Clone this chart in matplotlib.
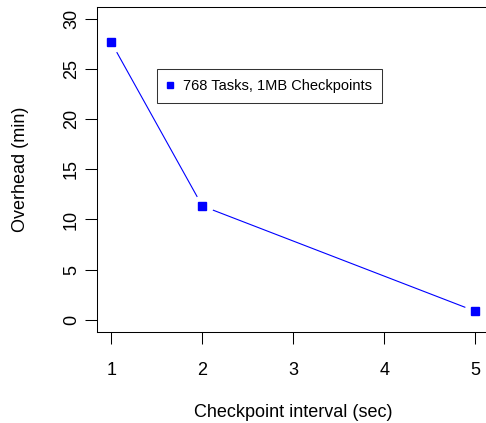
import matplotlib
matplotlib.use("Agg")
import matplotlib.pyplot as plt
from matplotlib.lines import Line2D

intervals = [1, 2, 5]
overhead = [27.7, 11.35, 0.83]
xticks = [1, 2, 3, 4, 5]
yticks = [0, 5, 10, 15, 20, 25, 30]
series_label = "768 Tasks, 1MB Checkpoints"

plt.rcParams['font.family'] = ['Liberation Sans', 'DejaVu Sans']

W, H = 486, 423
fig = plt.figure(figsize=(W / 100, H / 100), dpi=100)
left, right, top, bottom = 96.7, 490.0, 7.3, 331.6
ax = fig.add_axes([left / W, 1 - bottom / H, (right - left) / W, (bottom - top) / H])
ax.set_xlim(0.84, 5.16)
ax.set_ylim(-1.2, 31.2)

ax.plot(intervals, overhead, color='blue', lw=0.8, zorder=1)
ax.plot(intervals, overhead, ls='none', marker='o', ms=15.8, mfc='white', mec='none', zorder=2)
ax.plot(intervals, overhead, ls='none', marker='s', ms=6.3, mfc='blue', mec='blue', zorder=3)

ax.set_xticks(xticks)
ax.set_yticks(yticks)
ax.tick_params(direction='out', length=8.6, width=0.75, labelsize=13, color='black')
ax.tick_params(axis='x', pad=13)
ax.tick_params(axis='y', pad=3.5)
for lab in ax.get_yticklabels():
    lab.set_rotation(90)
    lab.set_va('center')
for s in ax.spines.values():
    s.set_linewidth(0.75)
    s.set_color('black')

ax.set_xlabel("Checkpoint interval (sec)", fontsize=13)
ax.xaxis.label.set_va('baseline')
ax.xaxis.set_label_coords(0.5, -(417 - bottom) / (bottom - top))
ax.set_ylabel("Overhead (min)", fontsize=13)
ax.yaxis.set_label_coords((28.8 - left) / (right - left), 0.5)

handle = Line2D([], [], ls='none', marker='s', ms=4.3, mfc='blue', mec='blue')
leg = ax.legend([handle], [series_label], loc='upper left',
                bbox_to_anchor=(157 / W, 1 - 69.3 / H), bbox_transform=fig.transFigure,
                fontsize=10.5, frameon=True, fancybox=False, edgecolor='black',
                handlelength=0.41, handletextpad=0.71, borderpad=0.67, borderaxespad=0)
leg.get_frame().set_linewidth(0.75)

fig.savefig("out.png", dpi=100)
